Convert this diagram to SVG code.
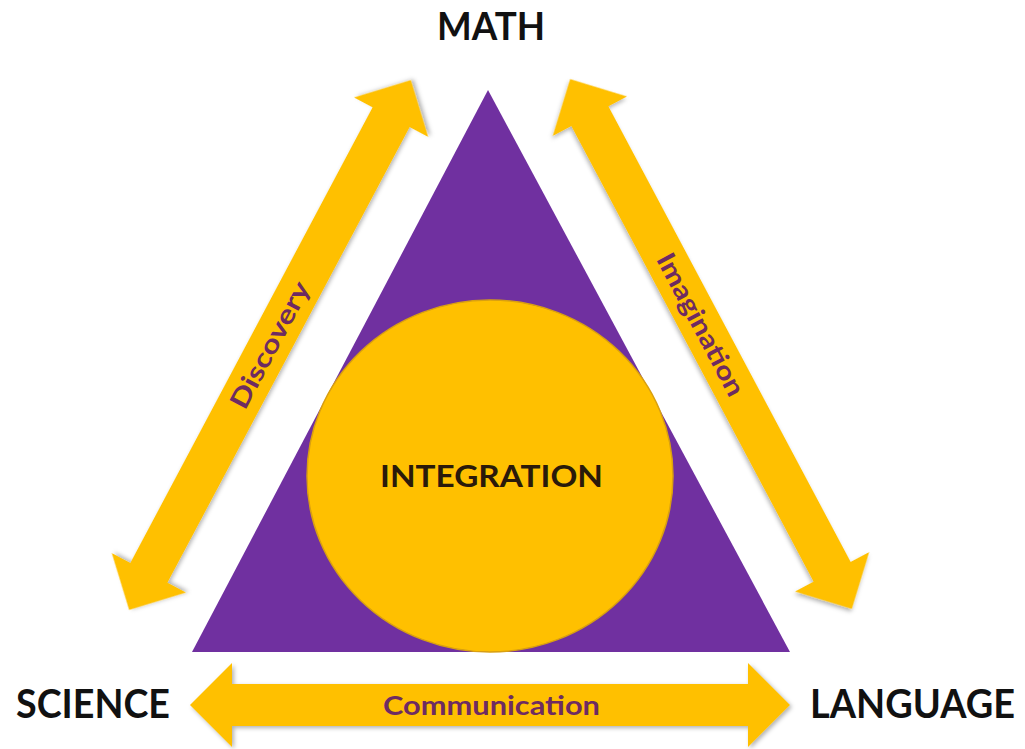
<svg xmlns="http://www.w3.org/2000/svg" xmlns:xlink="http://www.w3.org/1999/xlink" width="1025" height="749" viewBox="0 0 1025 749">
  <style>
    .lbl { font-family: Lato, "Liberation Sans", sans-serif; font-weight: bold; fill: #111111; }
    .mid { font-family: Lato, "Liberation Sans", sans-serif; font-weight: bold; fill: #2a1a0a; }
    .arrtxt { font-family: Lato, "Liberation Sans", sans-serif; font-weight: bold; fill: #6e2b62; }
    .arrow { fill: #FFC000; filter: url(#shadow); }
  </style>
  <defs>
    <filter id="shadow" x="-10%" y="-10%" width="120%" height="120%">
      <feDropShadow dx="2" dy="2" stdDeviation="2" flood-color="#000000" flood-opacity="0.3"/>
    </filter>
    <path id="dbl" d="M -300 0 L -258 -42 L -258 -21 L 258 -21 L 258 -42 L 300 0 L 258 42 L 258 21 L -258 21 L -258 42 Z"/>
  </defs>
  <rect x="0" y="0" width="1025" height="749" fill="#ffffff"/>

  <g id="node-triangle">
    <polygon points="488,90 790,652 192,652" fill="#7030A0"/>
  </g>

  <g id="node-integration">
    <ellipse cx="490" cy="476" rx="183" ry="176" fill="#FFC000" stroke="#D9A010" stroke-width="1.5"/>
    <text class="mid" x="491.5" y="487" font-size="31" text-anchor="middle" textLength="223" lengthAdjust="spacingAndGlyphs">INTEGRATION</text>
  </g>

  <g id="connectors">
    <g id="edge-discovery">
      <use xlink:href="#dbl" class="arrow" transform="translate(270,345) rotate(-62)"/>
      <text class="arrtxt" transform="translate(270,345) rotate(-62)" x="0" y="9" font-size="26" text-anchor="middle" textLength="140" lengthAdjust="spacingAndGlyphs">Discovery</text>
    </g>
    <g id="edge-imagination">
      <use xlink:href="#dbl" class="arrow" transform="translate(711,344) rotate(62)"/>
      <text class="arrtxt" transform="translate(711,344) rotate(62)" x="-22" y="9" font-size="26" text-anchor="middle" textLength="158" lengthAdjust="spacingAndGlyphs">Imagination</text>
    </g>
    <g id="edge-communication">
      <use xlink:href="#dbl" class="arrow" transform="translate(490,705)"/>
      <text class="arrtxt" x="491.5" y="715" font-size="27" text-anchor="middle" textLength="217" lengthAdjust="spacingAndGlyphs">Communication</text>
    </g>
  </g>

  <g id="node-math">
    <text class="lbl" x="491" y="40" font-size="39" text-anchor="middle" textLength="108" lengthAdjust="spacingAndGlyphs">MATH</text>
  </g>
  <g id="node-science">
    <text class="lbl" x="16" y="718" font-size="40" textLength="154" lengthAdjust="spacingAndGlyphs">SCIENCE</text>
  </g>
  <g id="node-language">
    <text class="lbl" x="810" y="718" font-size="40" textLength="205" lengthAdjust="spacingAndGlyphs">LANGUAGE</text>
  </g>
</svg>
